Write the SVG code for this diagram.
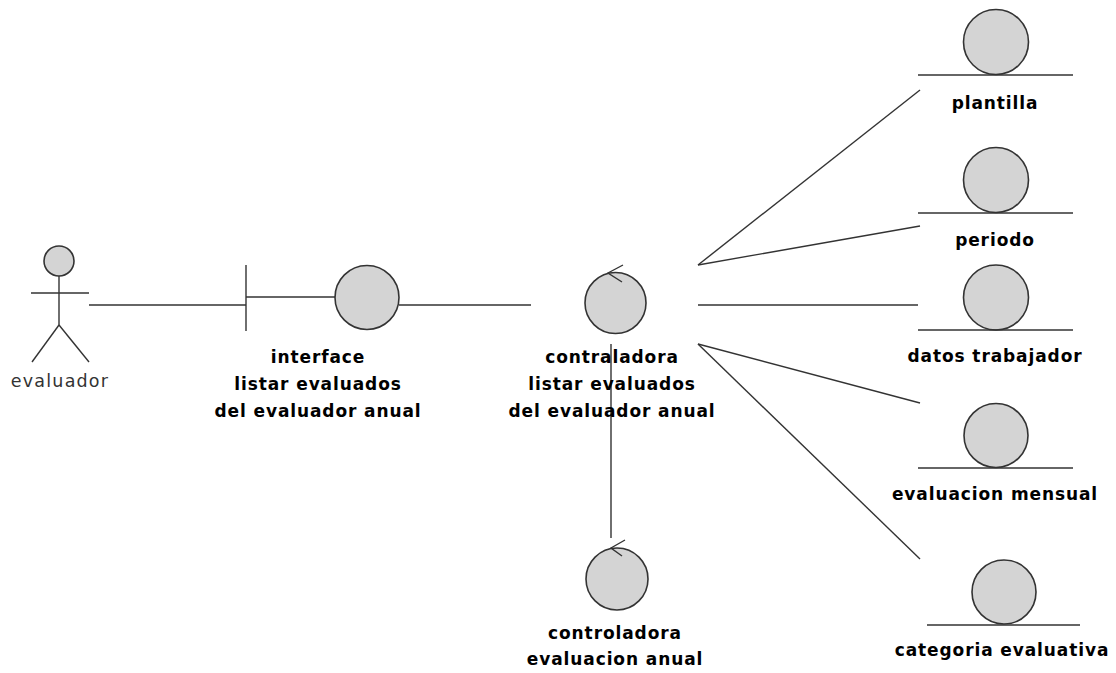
<svg xmlns="http://www.w3.org/2000/svg" width="1116" height="673" viewBox="0 0 1116 673">
  <style>
    .bg { fill: #ffffff; }
    .shape { fill: #d4d4d4; stroke: #333333; stroke-width: 1.6; }
    .ln { fill: none; stroke: #333333; stroke-width: 1.4; }
    .lbl { font-family: "DejaVu Sans", sans-serif; font-weight: bold; font-size: 17px; letter-spacing: 0.9px; fill: #000000; text-anchor: middle; }
    .actor-lbl { font-family: "DejaVu Sans", sans-serif; font-size: 17.5px; letter-spacing: 1.2px; fill: #333333; text-anchor: middle; }
  </style>
  <rect class="bg" x="0" y="0" width="1116" height="673"/>

  <!-- connectors -->
  <g id="connectors">
    <line class="ln" x1="89" y1="305" x2="246" y2="305"/>
    <line class="ln" x1="399" y1="305" x2="531" y2="305"/>
    <line class="ln" x1="611" y1="344" x2="611" y2="538"/>
    <line class="ln" x1="698" y1="265" x2="920" y2="90"/>
    <line class="ln" x1="698" y1="265" x2="920" y2="226"/>
    <line class="ln" x1="698" y1="305" x2="918" y2="305"/>
    <line class="ln" x1="698" y1="344" x2="920" y2="403"/>
    <line class="ln" x1="698" y1="344" x2="920" y2="559"/>
  </g>

  <!-- actor -->
  <g id="actor-evaluador">
    <circle class="shape" cx="59" cy="261" r="15"/>
    <line class="ln" x1="59" y1="276" x2="59" y2="325"/>
    <line class="ln" x1="31" y1="293" x2="89" y2="293"/>
    <line class="ln" x1="59" y1="325" x2="32" y2="362"/>
    <line class="ln" x1="59" y1="325" x2="89" y2="362"/>
    <text class="actor-lbl" x="60" y="387">evaluador</text>
  </g>

  <!-- boundary -->
  <g id="boundary-interface">
    <line class="ln" x1="246" y1="265" x2="246" y2="331"/>
    <line class="ln" x1="246" y1="297" x2="335" y2="297"/>
    <circle class="shape" cx="367" cy="297.5" r="32"/>
    <text class="lbl" x="318" y="363">interface</text>
    <text class="lbl" x="318" y="390">listar evaluados</text>
    <text class="lbl" x="318" y="417">del evaluador anual</text>
  </g>

  <!-- control: listar evaluados -->
  <g id="control-listar">
    <circle class="shape" cx="615.5" cy="303" r="30.5"/>
    <polyline class="ln" points="623,265 608,273 622,282"/>
    <text class="lbl" x="612" y="363">contraladora</text>
    <text class="lbl" x="612" y="390">listar evaluados</text>
    <text class="lbl" x="612" y="417">del evaluador anual</text>
  </g>

  <!-- control: evaluacion anual -->
  <g id="control-evaluacion">
    <circle class="shape" cx="617" cy="579" r="31"/>
    <polyline class="ln" points="625,540 611,548 622,556"/>
    <text class="lbl" x="615" y="639">controladora</text>
    <text class="lbl" x="615" y="665">evaluacion anual</text>
  </g>

  <!-- entities -->
  <g id="entity-plantilla">
    <circle class="shape" cx="996" cy="42" r="32.5"/>
    <line class="ln" x1="918" y1="75" x2="1073" y2="75"/>
    <text class="lbl" x="995" y="109">plantilla</text>
  </g>
  <g id="entity-periodo">
    <circle class="shape" cx="996" cy="180" r="32.5"/>
    <line class="ln" x1="918" y1="213" x2="1073" y2="213"/>
    <text class="lbl" x="995" y="246">periodo</text>
  </g>
  <g id="entity-datos">
    <circle class="shape" cx="996" cy="297.5" r="32.5"/>
    <line class="ln" x1="918" y1="330" x2="1073" y2="330"/>
    <text class="lbl" x="995" y="362">datos trabajador</text>
  </g>
  <g id="entity-evaluacion">
    <circle class="shape" cx="996" cy="435.5" r="32"/>
    <line class="ln" x1="918" y1="468" x2="1073" y2="468"/>
    <text class="lbl" x="995" y="500">evaluacion mensual</text>
  </g>
  <g id="entity-categoria">
    <circle class="shape" cx="1004" cy="592" r="32"/>
    <line class="ln" x1="927" y1="625" x2="1080" y2="625"/>
    <text class="lbl" x="1002" y="656">categoria evaluativa</text>
  </g>
</svg>
